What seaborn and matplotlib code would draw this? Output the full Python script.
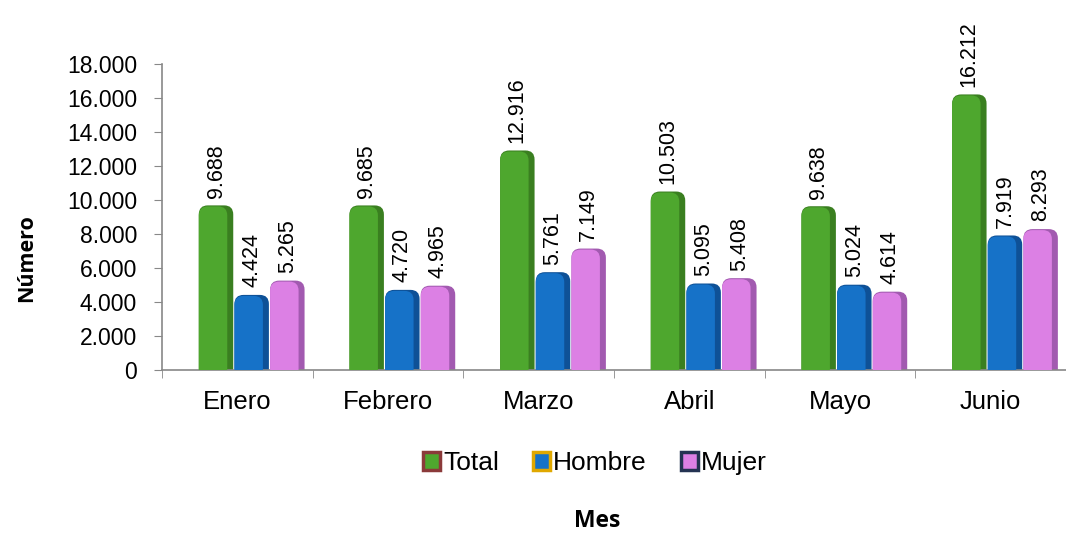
import matplotlib.pyplot as plt
import seaborn as sns
import pandas as pd
from matplotlib.patches import FancyBboxPatch, Patch
from matplotlib.ticker import FuncFormatter, FixedLocator

meses = ['Enero', 'Febrero', 'Marzo', 'Abril', 'Mayo', 'Junio']
total = [9688, 9685, 12916, 10503, 9638, 16212]
hombre = [4424, 4720, 5761, 5095, 5024, 7919]
mujer = [5265, 4965, 7149, 5408, 4614, 8293]
series = ['Total', 'Hombre', 'Mujer']
colores = ['#4ea72e', '#1672c8', '#dc80e4']
sombras = ['#3a7f20', '#0e5197', '#a25ab0']
bordes = ['#8b3a3a', '#e0a800', '#243352']

df = pd.DataFrame({'Mes': meses * 3,
                   'Serie': [s for s in series for _ in meses],
                   'Valor': total + hombre + mujer})

sns.set_style('white')
plt.rcParams['font.family'] = ['Liberation Sans', 'DejaVu Sans']
plt.rcParams['text.color'] = 'black'
plt.rcParams['xtick.color'] = 'black'
plt.rcParams['ytick.color'] = 'black'

fig = plt.figure(figsize=(10.66, 5.38), dpi=100)
ax = fig.add_axes([0.152, 0.312, 0.848, 0.569])

sns.barplot(data=df, x='Mes', y='Valor', hue='Serie', order=meses,
            hue_order=series, palette=colores, width=0.71, gap=0,
            errorbar=None, legend=False, ax=ax, saturation=1)

ax.set_ylim(0, 18000)
ax.set_xlim(-0.5, len(meses) - 0.5)

# barras con esquinas redondeadas y lado oscuro (efecto 3D)
asp = (18000 / 306) * 151
desp = 0.095
lado = 6 / 151
for p in list(ax.patches):
    x, w, h = p.get_x() + desp, p.get_width(), p.get_height()
    c = p.get_facecolor()
    i = colores.index(next(col for col in colores
                           if tuple(round(v, 3) for v in c[:3]) ==
                           tuple(round(v, 3) for v in plt.matplotlib.colors.to_rgb(col))))
    p.set_visible(False)
    ax.add_patch(FancyBboxPatch((x + 0.004, -800), w - 0.008, h + 800,
                                boxstyle='round,pad=0,rounding_size=0.06',
                                mutation_aspect=asp, facecolor=sombras[i],
                                edgecolor='none', zorder=2))
    ax.add_patch(FancyBboxPatch((x + 0.004, -800), w - 0.008 - lado, h + 800 - 60,
                                boxstyle='round,pad=0,rounding_size=0.06',
                                mutation_aspect=asp, facecolor=c,
                                edgecolor='none', zorder=3))
    ax.text(x + w / 2, h + 450, f'{int(h):,}'.replace(',', '.'),
            rotation=90, ha='center', va='bottom', fontsize=15.5)

ax.yaxis.set_major_formatter(FuncFormatter(lambda v, _: f'{int(v):,}'.replace(',', '.')))
ax.set_yticks(range(0, 18001, 2000))
ax.tick_params(axis='y', labelsize=16.5, length=6, color='#888888', direction='out',
               left=True, pad=12)
ax.tick_params(axis='x', which='major', labelsize=18.5, length=0, pad=14)
ax.xaxis.set_minor_locator(FixedLocator([i - 0.5 for i in range(len(meses) + 1)]))
ax.tick_params(axis='x', which='minor', length=6, color='#888888', direction='out', bottom=True)

for s in ['top', 'right']:
    ax.spines[s].set_visible(False)
for s in ['left', 'bottom']:
    ax.spines[s].set_color('#888888')
    ax.spines[s].set_linewidth(1.2)
ax.set_xlabel('')
ax.set_ylabel('')

handles = [Patch(facecolor=c, edgecolor=b, linewidth=2.5) for c, b in zip(colores, bordes)]
fig.legend(handles, series, loc='center', bbox_to_anchor=(0.558, 0.139), ncol=3,
           frameon=False, fontsize=19, handlelength=0.65, handleheight=0.65,
           handletextpad=0.1, columnspacing=1.3)

fig.text(0.56, 0.02, 'Mes', fontsize=16.5, fontweight='bold', ha='center',
         family=['Open Sans', 'DejaVu Sans'])
fig.text(0.015, 0.52, 'Número', fontsize=15.5, fontweight='bold', rotation=90,
         va='center', family=['Open Sans', 'DejaVu Sans'])

fig.savefig('out.png', dpi=100)
